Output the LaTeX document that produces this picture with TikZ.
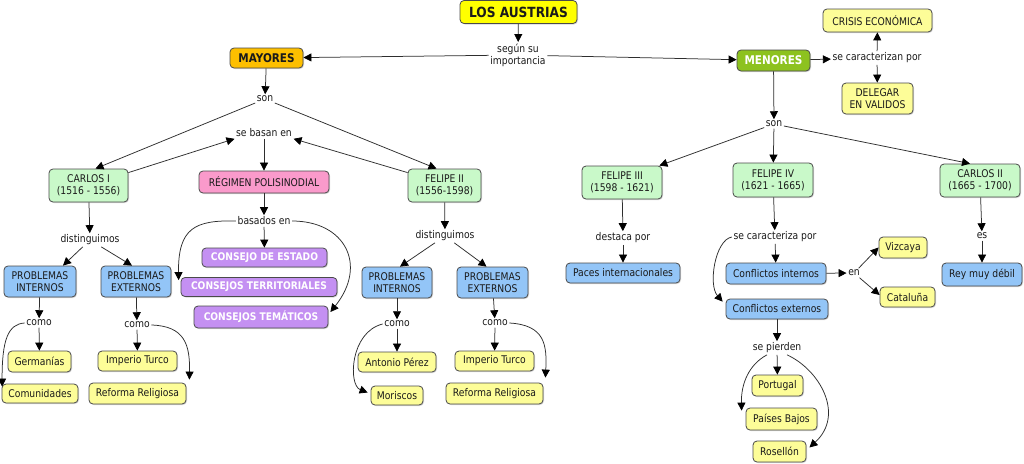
\documentclass[tikz,border=0pt]{standalone}
\usepackage{fontspec}
\setmainfont{DejaVu Sans}[FakeStretch=0.87]
\usetikzlibrary{arrows.meta,shadows}
\definecolor{txt}{HTML}{1A1A1A}
\definecolor{bordc}{HTML}{4A4A4A}
\definecolor{linec}{HTML}{2E2E2E}
\definecolor{yellowT}{HTML}{FFFF00}
\definecolor{orangeM}{HTML}{FDBF00}
\definecolor{greenD}{HTML}{8DC21F}
\definecolor{greenL}{HTML}{C9F9C9}
\definecolor{pinkR}{HTML}{FA9ACB}
\definecolor{purpleC}{HTML}{C490F2}
\definecolor{blueP}{HTML}{93C5F7}
\definecolor{yellowL}{HTML}{FDFD98}
\begin{document}
\begin{tikzpicture}[x=1pt,y=-1pt,
  every node/.style={font=\fontsize{10.6}{11.8}\selectfont, text=txt},
  box/.style={draw=bordc, line width=0.8pt, rounded corners=4pt, align=center, inner sep=1pt,
    drop shadow={shadow xshift=1pt,shadow yshift=-1pt,fill=black!30}},
  sz/.style 2 args={minimum width=#1, minimum height=#2},
  lab/.style={inner sep=1.5pt, align=center},
  conn/.style={draw=linec, line width=0.75pt, -{Triangle[length=8pt,width=8pt,color=black]}},
  tbox/.style={box, fill=yellowT, font=\fontsize{14}{16}\selectfont\bfseries},
  mbox/.style={box, fill=orangeM, font=\fontsize{12}{14}\selectfont\bfseries},
  nbox/.style={box, fill=greenD, text=white, font=\fontsize{12}{14}\selectfont\bfseries},
  gbox/.style={box, fill=greenL},
  pbox/.style={box, fill=pinkR},
  vbox/.style={box, fill=purpleC, text=white, font=\fontsize{10.5}{12}\selectfont\bfseries},
  bbox/.style={box, fill=blueP},
  ybox/.style={box, fill=yellowL}
]
\useasboundingbox[fill=white] (0,0) rectangle (1024,463);

% ---- top ----
\node[tbox, sz={117}{23}] (austrias) at (518.5,12) {LOS AUSTRIAS};
\node[lab] (segun) at (518,55) {según su\\importancia};
\node[mbox, sz={73}{20}] (mayores) at (266.5,58) {MAYORES};
\node[nbox, sz={73}{21}] (menores) at (773.5,60.5) {MENORES};
\node[lab] (caracterizan) at (877,58) {se caracterizan por};
\node[ybox, sz={109}{23}] (crisis) at (877.5,20.5) {CRISIS ECONÓMICA};
\node[ybox, sz={71}{31}] (delegar) at (877.5,98.5) {DELEGAR\\EN VALIDOS};

% ---- menores ----
\node[lab] (sonR) at (774,124) {son};
\node[gbox, sz={80}{33}] (felipe3) at (622,182.5) {FELIPE III\\(1598 - 1621)};
\node[gbox, sz={80}{34}] (felipe4) at (773,180) {FELIPE IV\\(1621 - 1665)};
\node[gbox, sz={80}{33}] (carlos2) at (980,180.5) {CARLOS II\\(1665 - 1700)};
\node[lab] (destaca) at (623,238) {destaca por};
\node[bbox, sz={114}{20}] (paces) at (623,273) {Paces internacionales};
\node[lab] (caracteriza) at (775,237) {se caracteriza por};
\node[bbox, sz={100}{21}] (cint) at (776,273.5) {Conflictos internos};
\node[bbox, sz={102}{20}] (cext) at (777,309) {Conflictos externos};
\node[lab] (en) at (854,273) {en};
\node[ybox, sz={48}{21}] (vizcaya) at (903,247.5) {Vizcaya};
\node[ybox, sz={55}{20}] (cataluna) at (907.5,297) {Cataluña};
\node[lab] (es) at (982,236) {es};
\node[bbox, sz={80}{23}] (rey) at (982,274.5) {Rey muy débil};
\node[lab] (pierden) at (777,348) {se pierden};
\node[ybox, sz={51}{21}] (portugal) at (777.5,385.5) {Portugal};
\node[ybox, sz={71}{22}] (paises) at (781.5,419) {Países Bajos};
\node[ybox, sz={53}{21}] (rosellon) at (779.5,451.5) {Rosellón};

% ---- mayores ----
\node[lab] (sonL) at (265,99) {son};
\node[gbox, sz={79}{33}] (carlos1) at (88.5,185.5) {CARLOS I\\(1516 - 1556)};
\node[gbox, sz={73}{33}] (felipe2) at (444.5,185.5) {FELIPE II\\(1556-1598)};
\node[lab] (basan) at (264,133) {se basan en};
\node[pbox, sz={130}{22}] (regimen) at (264,182) {RÉGIMEN POLISINODIAL};
\node[lab] (basados) at (264,221) {basados en};
\node[vbox, sz={125}{19}] (cestado) at (264.5,257.5) {CONSEJO DE ESTADO};
\node[vbox, sz={156}{19}] (cterr) at (259,287) {CONSEJOS TERRITORIALES};
\node[vbox, sz={134}{22}] (ctem) at (261,317) {CONSEJOS TEMÁTICOS};

\node[lab] (distL) at (90,240) {distinguimos};
\node[bbox, sz={72}{31}] (piL) at (40,281.5) {PROBLEMAS\\INTERNOS};
\node[bbox, sz={70}{31}] (peL) at (136,281.5) {PROBLEMAS\\EXTERNOS};
\node[lab] (comoL1) at (39,323) {como};
\node[ybox, sz={63}{21}] (germanias) at (39.5,361.5) {Germanías};
\node[ybox, sz={76}{19}] (comunidades) at (40,393.5) {Comunidades};
\node[lab] (comoL2) at (137,325) {como};
\node[ybox, sz={79}{20}] (imperioL) at (137.5,361) {Imperio Turco};
\node[ybox, sz={97}{21}] (reformaL) at (137.5,393.5) {Reforma Religiosa};

\node[lab] (distR) at (445,236) {distinguimos};
\node[bbox, sz={70}{31}] (piR) at (397,282.5) {PROBLEMAS\\INTERNOS};
\node[bbox, sz={71}{31}] (peR) at (492.5,282.5) {PROBLEMAS\\EXTERNOS};
\node[lab] (comoR1) at (397,324) {como};
\node[ybox, sz={78}{20}] (antonio) at (397,362) {Antonio Pérez};
\node[ybox, sz={52}{19}] (moriscos) at (397,395.5) {Moriscos};
\node[lab] (comoR2) at (495,323) {como};
\node[ybox, sz={79}{20}] (imperioR) at (494.5,361) {Imperio Turco};
\node[ybox, sz={97}{21}] (reformaR) at (494.5,393.5) {Reforma Religiosa};

% ---- connectors: top ----
\draw[conn] (austrias) -- (segun);
\draw[conn] (segun) -- (mayores);
\draw[conn] (segun) -- (menores);
\draw[conn] (menores) -- (caracterizan);
\draw[conn] (caracterizan) -- (crisis);
\draw[conn] (caracterizan) -- (delegar);

% ---- connectors: menores ----
\draw[conn] (menores) -- (sonR);
\draw[conn] (sonR) -- ([xshift=-3pt]felipe3.north east);
\draw[conn] (sonR) -- (felipe4);
\draw[conn] (sonR) -- ([xshift=-10pt]carlos2.north);
\draw[conn] (felipe3) -- (destaca);
\draw[conn] (destaca) -- (paces);
\draw[conn] (felipe4) -- (caracteriza);
\draw[conn] (caracteriza) -- (cint);
\draw[conn] (caracteriza.west) .. controls (715,240) and (708,285) .. ([xshift=-3pt,yshift=-3pt]cext.north west);
\draw[conn] (cint) -- (en);
\draw[conn] (en) -- (vizcaya.west);
\draw[conn] (en) -- ([yshift=2pt]cataluna.west);
\draw[conn] (carlos2) -- (es);
\draw[conn] (es) -- (rey);
\draw[conn] (cext) -- (pierden);
\draw[conn] (pierden) -- (portugal);
\draw[conn] ([xshift=-10pt]pierden.south) .. controls (748,365) and (741,385) .. ([xshift=-4pt,yshift=-3pt]paises.north west);
\draw[conn] ([xshift=10pt]pierden.south) .. controls (820,370) and (845,415) .. ([xshift=3pt,yshift=4pt]rosellon.east);

% ---- connectors: mayores ----
\draw[conn] (mayores) -- (sonL);
\draw[conn] (sonL) -- ([xshift=7pt]carlos1.north);
\draw[conn] (sonL) -- ([xshift=-8pt]felipe2.north);
\draw[conn] ([yshift=-4pt]carlos1.north east) -- (basan.south west);
\draw[conn] ([yshift=-4pt]felipe2.north west) -- (basan.south east);
\draw[conn] (basan) -- (regimen);
\draw[conn] (regimen) -- (basados);
\draw[conn] (basados) -- (cestado);
\draw[conn] (basados.west) .. controls (195,220) and (178,228) .. ([xshift=-2pt,yshift=-3pt]cterr.north west);
\draw[conn] (basados.east) .. controls (345,221) and (368,265) .. ([xshift=2pt,yshift=5pt]ctem.east);

\draw[conn] (carlos1) -- (distL);
\draw[conn] (distL) -- ([xshift=23pt]piL.north);
\draw[conn] (distL) -- ([xshift=-4pt]peL.north);
\draw[conn] (piL) -- (comoL1);
\draw[conn] (comoL1) -- (germanias);
\draw[conn] (comoL1.west) .. controls (8,324) and (2,340) .. ([xshift=0.5pt,yshift=-3pt]comunidades.north west);
\draw[conn] (peL) -- (comoL2);
\draw[conn] (comoL2) -- (imperioL);
\draw[conn] (comoL2.east) .. controls (185,326) and (190,345) .. ([xshift=3pt,yshift=3pt]reformaL.north east);

\draw[conn] (felipe2) -- (distR);
\draw[conn] (distR) -- ([xshift=3pt]piR.north);
\draw[conn] (distR) -- ([xshift=-6pt]peR.north);
\draw[conn] (piR) -- (comoR1);
\draw[conn] (comoR1) -- (antonio);
\draw[conn] (comoR1.west) .. controls (350,332) and (348,385) .. ([xshift=-3pt,yshift=3pt]moriscos.west);
\draw[conn] (peR) -- (comoR2);
\draw[conn] (comoR2) -- (imperioR);
\draw[conn] (comoR2.east) .. controls (545,325) and (547,345) .. ([xshift=2pt,yshift=5pt]reformaR.north east);
\end{tikzpicture}
\end{document}
